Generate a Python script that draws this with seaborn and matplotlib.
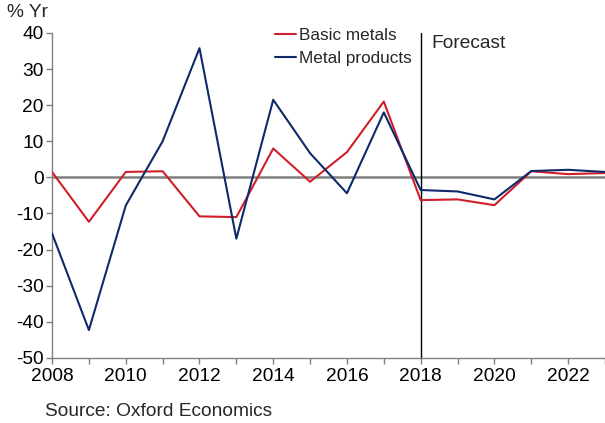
import matplotlib
matplotlib.use("Agg")
import matplotlib.pyplot as plt
import seaborn as sns
import pandas as pd
from matplotlib.ticker import MultipleLocator

years = list(range(2008, 2024))
basic_metals = [1.5, -12.3, 1.5, 1.7, -10.8, -11.0, 8.0, -1.2, 7.0, 21.0,
                -6.3, -6.1, -7.7, 1.7, 0.9, 1.2]
metal_products = [-15.5, -42.3, -7.8, 10.0, 35.8, -17.0, 21.5, 6.7, -4.4, 18.0,
                  -3.5, -3.9, -6.1, 1.75, 2.1, 1.5]
series_names = ["Basic metals", "Metal products"]
colors = ["#D01F2A", "#0E2A6B"]

df = pd.DataFrame({"Year": years * 2,
                   "Value": basic_metals + metal_products,
                   "Series": [series_names[0]] * len(years) + [series_names[1]] * len(years)})

sns.set_style("white")
plt.rcParams["font.family"] = ["Liberation Sans", "DejaVu Sans"]
plt.rcParams["axes.unicode_minus"] = False

fig = plt.figure(figsize=(6.05, 4.23), dpi=100)
ax = fig.add_axes([0.086, 0.154, 0.914, 0.768])

ax.axhline(0, color="#808080", lw=1.8, zorder=1)
ax.axvline(2018, color="black", lw=1.0, zorder=1)

sns.lineplot(data=df, x="Year", y="Value", hue="Series", palette=colors,
             ax=ax, lw=1.5, zorder=3)

ax.set_xlim(2008, 2023)
ax.set_ylim(-50, 40)
ax.xaxis.set_major_locator(MultipleLocator(2))
ax.xaxis.set_minor_locator(MultipleLocator(1))
ax.yaxis.set_major_locator(MultipleLocator(10))
ax.set_xlabel("")
ax.set_ylabel("")
for s in ["top", "right"]:
    ax.spines[s].set_visible(False)
for s in ["left", "bottom"]:
    ax.spines[s].set_color("#808080")
    ax.spines[s].set_linewidth(1.0)
ax.tick_params(axis="both", which="both", direction="out", color="#808080",
               labelsize=13.8, length=4, width=1.0, labelcolor="black")
ax.tick_params(axis="x", which="major", pad=3)
ax.tick_params(axis="y", pad=2)
ax.tick_params(left=True, bottom=True)
ax.tick_params(axis="x", which="minor", bottom=True, length=4)

leg = ax.legend(loc="upper left", bbox_to_anchor=(0.39, 1.035), frameon=False,
                fontsize=12.3, handlelength=1.25, handletextpad=0.2, labelspacing=0.45,
                borderaxespad=0)

fig.text(0.012, 0.99, "% Yr", fontsize=13.8, va="top", ha="left")
ax.text(2018.3, 39.5, "Forecast", fontsize=13.8, va="top", ha="left")
fig.text(0.074, 0.008, "Source: Oxford Economics", fontsize=13.8, va="bottom", ha="left")

fig.savefig("out.png", dpi=100)
